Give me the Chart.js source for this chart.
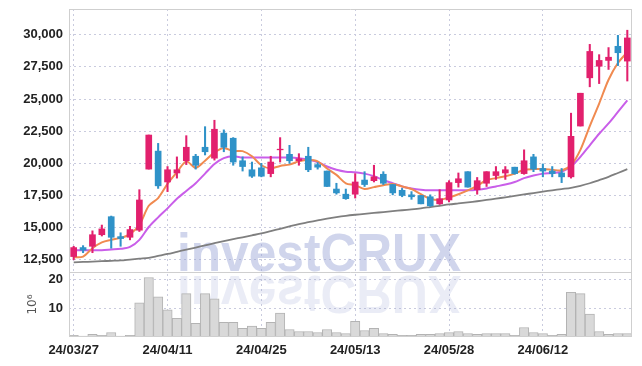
<!DOCTYPE html>
<html>
<head>
<meta charset="utf-8">
<script src="https://cdn.jsdelivr.net/npm/chart.js@4.4.1/dist/chart.umd.min.js"></script>
<style>
  html, body { margin: 0; padding: 0; background: #fff; }
</style>
</head>
<body>
<canvas id="chart" width="642" height="366"></canvas>
<script>
// trading days shown on the chart
const dates = [
  '24/03/27','24/03/28','24/03/29','24/04/01','24/04/02','24/04/03','24/04/04','24/04/05','24/04/08','24/04/09',
  '24/04/11','24/04/12','24/04/15','24/04/16','24/04/17','24/04/18','24/04/19','24/04/22','24/04/23','24/04/24',
  '24/04/25','24/04/26','24/04/29','24/04/30','24/05/02','24/05/03','24/05/07','24/05/08','24/05/09','24/05/10',
  '24/05/13','24/05/14','24/05/16','24/05/17','24/05/20','24/05/21','24/05/22','24/05/23','24/05/24','24/05/27',
  '24/05/28','24/05/29','24/05/30','24/05/31','24/06/03','24/06/04','24/06/05','24/06/07','24/06/10','24/06/11',
  '24/06/12','24/06/13','24/06/14','24/06/17','24/06/18','24/06/19','24/06/20','24/06/21','24/06/24','24/06/25'
];

const opens = [
  12750,13450,13550,14450,15850,14300,14250,14800,19550,20950,
  18550,19250,20200,20550,21250,20400,22350,21950,20200,19500,
  19650,19200,21050,20700,20200,20550,19900,19400,18000,17600,
  17600,18700,18650,19150,18350,17900,17550,17500,17400,16850,
  17150,18500,19350,17950,18450,19050,19250,19700,19200,20500,
  19600,19400,19250,18950,22900,26650,27550,28000,29100,27950
];
const highs = [
  13550,13600,14750,15200,15900,14600,15100,17950,22200,21550,
  19750,20500,22150,20700,22850,23350,22600,22000,20500,20100,
  20000,20550,22000,21400,20750,21250,20050,19400,18450,18000,
  19200,19350,19850,19350,18350,18050,17800,17500,17550,17950,
  18650,19250,19350,18900,19350,19750,19750,19700,21050,20700,
  19950,19750,19600,23900,25450,29250,28450,29000,29950,30350
];
const lows = [
  12500,13050,13050,14350,13400,13550,14050,14700,19550,18050,
  17800,18850,19900,19550,20650,20250,20900,19850,19400,18900,
  18950,18950,20100,20000,19850,19350,19550,18200,17600,17200,
  17300,18200,18550,18350,17550,17400,17200,16850,16650,16800,
  17000,18150,18150,17600,18200,18750,18750,19150,19150,19350,
  18950,18950,18500,18850,22900,25950,26200,27300,27600,26400
];
const closes = [
  13450,13250,14450,14900,14250,14150,14850,17150,22200,18250,
  19500,19500,21250,19850,20900,22650,21250,20100,19750,19000,
  19000,20100,21100,20200,20350,19500,19700,18200,17700,17250,
  18550,18350,18950,18450,17700,17500,17400,16850,16700,17250,
  18500,18800,18150,18650,19350,19350,19500,19200,20200,19550,
  19400,19200,18950,22100,25450,28700,28000,28250,28600,29750
];

// moving averages as drawn
const ma5 = [
  12700,12750,13400,13850,14050,14200,14500,15200,16700,17300,
  18400,19300,20150,19650,20200,20850,21200,20950,20950,20550,
  19850,19600,19800,19900,20150,20250,20150,19600,19100,18450,
  18300,18000,18150,18300,18400,18200,18000,17600,17250,17150,
  17350,17600,17900,18250,18700,18850,19000,19200,19500,19550,
  19550,19500,19450,19850,21050,22900,24650,26500,27800,28650
];
const ma20 = [
  13250,13250,13250,13250,13300,13350,13500,14050,15050,15800,
  16500,17250,17850,18450,19200,19950,20400,20550,20450,20450,
  20450,20450,20450,20450,20400,20300,20100,19750,19500,19350,
  19300,19200,19000,18700,18450,18200,18050,17950,17900,17900,
  17900,17900,17900,17950,18050,18200,18350,18550,18850,19050,
  19200,19250,19350,19750,20500,21400,22300,23100,24000,24900
];
const ma120 = [
  12300,12330,12360,12390,12420,12450,12520,12590,12650,12800,
  12950,13120,13290,13450,13620,13790,13950,14100,14250,14400,
  14550,14730,14910,15100,15280,15420,15560,15700,15820,15920,
  16000,16070,16140,16210,16280,16350,16420,16500,16600,16700,
  16800,16880,16960,17050,17150,17250,17360,17470,17580,17690,
  17800,17900,18000,18100,18250,18450,18700,18950,19250,19550
];

// volume, millions of shares
const volumes = [
  0.6,0.35,0.95,0.6,1.55,0.35,0.6,11.8,20.6,13.9,
  9.4,6.5,15.0,4.7,15.0,13.2,5.1,5.1,3.0,3.8,
  3.0,5.1,8.3,2.6,1.9,1.9,1.55,2.6,1.55,1.2,
  5.4,2.25,3.0,1.2,0.95,0.6,0.6,0.95,0.95,1.2,
  1.55,1.9,1.2,0.95,1.2,1.2,1.2,0.6,3.3,1.55,
  1.2,0.6,0.95,15.5,15.0,7.9,1.9,0.95,1.2,1.2
];

const priceTicks = [12500, 15000, 17500, 20000, 22500, 25000, 27500, 30000];
const volumeTicks = [10, 20];

const UP = '#e2206d';
const DOWN = '#2f92c8';
const GRID = '#c9cbde';
const tickFont = { family: "'Liberation Sans', Arial, sans-serif", size: 13, weight: 'bold' };

const candleColors = closes.map((c, i) => c >= opens[i] ? UP : DOWN);

// watermark, panel frame
const decor = {
  id: 'decor',
  beforeDatasetsDraw(chart) {
    const ctx = chart.ctx;
    const area = chart.chartArea;
    const split = chart.scales.y.bottom;
    ctx.save();
    ctx.beginPath();
    ctx.rect(area.left, area.top, area.right - area.left, area.bottom - area.top);
    ctx.clip();
    ctx.font = 'bold 54px "Liberation Sans", sans-serif';
    ctx.textBaseline = 'alphabetic';
    const text = 'investCRUX';
    const w = ctx.measureText(text).width;
    const sx = 284 / w;
    ctx.save();
    ctx.translate(177, split - 1);
    ctx.scale(sx, 1);
    ctx.fillStyle = 'rgba(150,162,212,0.45)';
    ctx.fillText(text, 0, 0);
    ctx.restore();
    ctx.save();
    ctx.translate(177, split + 4);
    ctx.scale(sx, -1);
    ctx.fillStyle = 'rgba(150,162,212,0.2)';
    ctx.fillText(text, 0, 0);
    ctx.restore();
    ctx.restore();
  },
  afterDraw(chart) {
    const ctx = chart.ctx;
    const a = chart.chartArea;
    const split = chart.scales.y.bottom;
    ctx.save();
    ctx.strokeStyle = '#cfcfcf';
    ctx.lineWidth = 1;
    ctx.beginPath();
    ctx.moveTo(a.left + 0.5, a.top);
    ctx.lineTo(a.left + 0.5, a.bottom);
    ctx.moveTo(a.right - 0.5, a.top);
    ctx.lineTo(a.right - 0.5, a.bottom);
    ctx.moveTo(a.left, a.top + 0.5);
    ctx.lineTo(a.right, a.top + 0.5);
    ctx.moveTo(a.left, Math.round(split) + 0.5);
    ctx.lineTo(a.right, Math.round(split) + 0.5);
    ctx.moveTo(a.left, a.bottom - 0.5);
    ctx.lineTo(a.right, a.bottom - 0.5);
    ctx.stroke();
    ctx.restore();
  }
};

const fitY = s => { s.width = 69; s.paddingTop = 0; s.paddingBottom = 0; };

new Chart(document.getElementById('chart'), {
  type: 'bar',
  data: {
    labels: dates,
    datasets: [
      {
        type: 'bar', label: 'body', yAxisID: 'y', order: 1, grouped: false,
        data: opens.map((o, i) => [o, closes[i]]),
        backgroundColor: candleColors, barThickness: 6
      },
      {
        type: 'bar', label: 'wick', yAxisID: 'y', order: 2, grouped: false,
        data: lows.map((l, i) => [l, highs[i]]),
        backgroundColor: candleColors, barThickness: 1.4
      },
      {
        type: 'line', label: 'MA5', yAxisID: 'y', order: 3, data: ma5,
        borderColor: '#f08a50', borderWidth: 2, pointRadius: 0, tension: 0.3
      },
      {
        type: 'line', label: 'MA20', yAxisID: 'y', order: 3, data: ma20,
        borderColor: '#c95ee9', borderWidth: 2, pointRadius: 0, tension: 0.3
      },
      {
        type: 'line', label: 'MA120', yAxisID: 'y', order: 3, data: ma120,
        borderColor: '#7f7f7f', borderWidth: 1.8, pointRadius: 0, tension: 0.3
      },
      {
        type: 'bar', label: 'volume', yAxisID: 'yv', order: 5, grouped: false,
        data: volumes,
        backgroundColor: '#d9d9d9', borderColor: '#b3b3b3', borderWidth: 1,
        barPercentage: 1, categoryPercentage: 1
      }
    ]
  },
  options: {
    responsive: false,
    animation: false,
    events: [],
    layout: { padding: { top: 9, right: 10, bottom: 0, left: 0 } },
    plugins: { legend: { display: false }, tooltip: { enabled: false } },
    scales: {
      x: {
        offset: true,
        afterFit: s => { s.height = 29; s.paddingLeft = 0; s.paddingRight = 0; },
        grid: {
          offset: false, drawTicks: false,
          color: c => c.index % 10 === 0 ? GRID : 'rgba(0,0,0,0)'
        },
        border: { display: false, dash: [2, 3] },
        ticks: {
          autoSkip: false, maxRotation: 0, padding: 6, color: '#222', font: tickFont,
          callback: (v, i) => i % 10 === 0 ? dates[i] : ''
        }
      },
      yv: {
        position: 'left', stack: 'panels', stackWeight: 65,
        min: 0, max: 22.5,
        afterBuildTicks: s => { s.ticks = volumeTicks.map(v => ({ value: v })); },
        afterFit: fitY,
        grid: { color: GRID, drawTicks: false },
        border: { display: false, dash: [2, 3] },
        ticks: { autoSkip: false, padding: 6, color: '#222', font: tickFont },
        title: {
          display: true, text: '10⁶', color: '#555',
          font: { family: 'DejaVu Sans', size: 12 },
          padding: { top: 26, bottom: 0 }
        }
      },
      y: {
        position: 'left', stack: 'panels', stackWeight: 263,
        min: 11550, max: 32000,
        afterBuildTicks: s => { s.ticks = priceTicks.map(v => ({ value: v })); },
        afterFit: fitY,
        grid: { color: GRID, drawTicks: false },
        border: { display: false, dash: [2, 3] },
        ticks: {
          autoSkip: false, padding: 6, color: '#222', font: tickFont,
          callback: v => v.toLocaleString('en-US')
        }
      }
    }
  },
  plugins: [decor]
});
</script>
</body>
</html>
